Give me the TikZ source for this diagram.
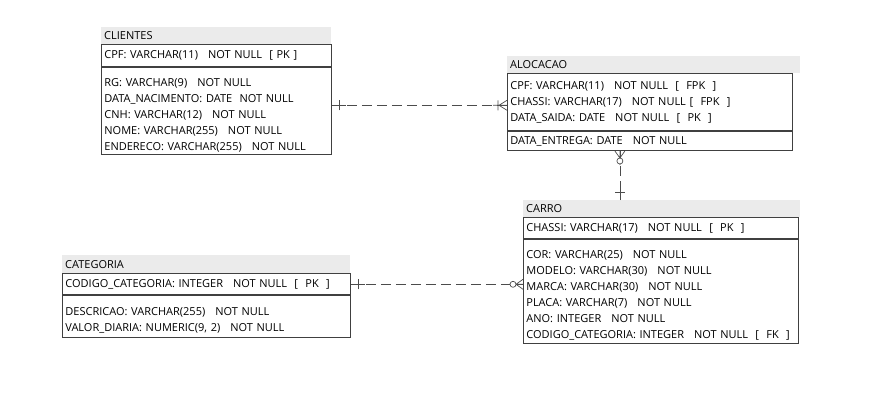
\documentclass[tikz,border=0pt]{standalone}
\usepackage{fontspec}
\setmainfont{Open Sans}
\usetikzlibrary{positioning}

\newcommand{\entfont}{\fontsize{11}{16}\selectfont}
\newcommand{\gap}{\hspace{10pt}}
\newcommand{\toppad}{\rule{0pt}{16pt}}

\tikzset{
  ent/.style={anchor=north west, inner xsep=3pt, inner ysep=0pt, align=left, font=\entfont},
  entbox/.style={ent, draw=black!75, line width=0.8pt},
  enthead/.style={ent, fill=black!8},
  relline/.style={draw=black!70, line width=0.7pt, dash pattern=on 10pt off 5pt},
  tipline/.style={draw=black!70, line width=0.7pt},
  onlyone/.pic={\draw[tipline] (0,0) -- (14pt,0) (8pt,-5pt) -- (8pt,5pt);},
  onemany/.pic={\draw[tipline] (0,-5pt) -- (8pt,0) -- (0,5pt) (0,0) -- (14pt,0) (9pt,-5pt) -- (9pt,5pt);},
  zeromany/.pic={\draw[tipline] (0,-5pt) -- (7pt,0) -- (0,5pt) (0,0) -- (14pt,0);
                 \filldraw[tipline, fill=white] (10pt,0) circle[radius=3pt];}
}

\begin{document}
\begin{tikzpicture}[x=1pt,y=-1pt]

  \useasboundingbox (0,0) rectangle (870,420);

  % CLIENTES
  \node[enthead, text width=224pt, minimum height=17pt] (cliH) at (101,27) {CLIENTES};
  \node[entbox, text width=224pt, minimum height=22pt] (cliK) at (cliH.south west)
    {CPF: VARCHAR(11)\gap NOT NULL\ \ [ PK ]};
  \node[entbox, text width=224pt, minimum height=87pt] (cliA) at (cliK.south west)
    {\toppad RG: VARCHAR(9)\gap NOT NULL\\
     DATA\_NACIMENTO: DATE\ \ NOT NULL\\
     CNH: VARCHAR(12)\gap NOT NULL\\
     NOME: VARCHAR(255)\gap NOT NULL\\
     ENDERECO: VARCHAR(255)\gap NOT NULL};

  % ALOCACAO
  \node[enthead, text width=287pt, minimum height=17pt] (aloH) at (507,56) {ALOCACAO};
  \node[entbox, text width=279pt, minimum height=57pt] (aloK) at (aloH.south west)
    {CPF: VARCHAR(11)\gap NOT NULL\ \ [\ \ FPK\ \ ]\\
     CHASSI: VARCHAR(17)\gap NOT NULL [\ \ FPK\ \ ]\\
     DATA\_SAIDA: DATE\gap NOT NULL\ \ [\ \ PK\ \ ]};
  \node[entbox, text width=279pt, minimum height=19pt] (aloA) at (aloK.south west)
    {DATA\_ENTREGA: DATE\gap NOT NULL};

  % CARRO
  \node[enthead, text width=271pt, minimum height=17pt] (carH) at (523,200) {CARRO};
  \node[entbox, text width=269pt, minimum height=21pt] (carK) at (carH.south west)
    {CHASSI: VARCHAR(17)\gap NOT NULL\ \ [\ \ PK\ \ ]};
  \node[entbox, text width=269pt, minimum height=104pt] (carA) at (carK.south west)
    {\toppad COR: VARCHAR(25)\gap NOT NULL\\
     MODELO: VARCHAR(30)\gap NOT NULL\\
     MARCA: VARCHAR(30)\gap NOT NULL\\
     PLACA: VARCHAR(7)\gap NOT NULL\\
     ANO: INTEGER\gap NOT NULL\\
     CODIGO\_CATEGORIA: INTEGER\gap NOT NULL\ \ [\ \ FK\ \ ]};

  % CATEGORIA
  \node[enthead, text width=282pt, minimum height=18pt] (catH) at (62,255) {CATEGORIA};
  \node[entbox, text width=282pt, minimum height=21pt] (catK) at (catH.south west)
    {CODIGO\_CATEGORIA: INTEGER\gap NOT NULL\ \ [\ \ PK\ \ ]};
  \node[entbox, text width=282pt, minimum height=42pt] (catA) at (catK.south west)
    {\toppad DESCRICAO: VARCHAR(255)\gap NOT NULL\\
     VALOR\_DIARIA: NUMERIC(9, 2)\gap NOT NULL};

  \coordinate (aloIn) at ([yshift=-3pt]aloK.west);
  \coordinate (aloOut) at ([xshift=-30pt]aloA.south);

  \draw[relline] (cliA.east |- aloIn) -- (aloIn);
  \draw[relline] (aloOut) -- (aloOut |- carH.north);
  \draw[relline] (catK.east) -- (catK.east -| carA.west);

  \pic at (cliA.east |- aloIn) {onlyone};
  \pic[rotate=180] at (aloIn) {onemany};
  \pic[rotate=-90] at (aloOut) {zeromany};
  \pic[rotate=90] at (aloOut |- carH.north) {onlyone};
  \pic at (catK.east) {onlyone};
  \pic[rotate=180] at (catK.east -| carA.west) {zeromany};

\end{tikzpicture}
\end{document}
